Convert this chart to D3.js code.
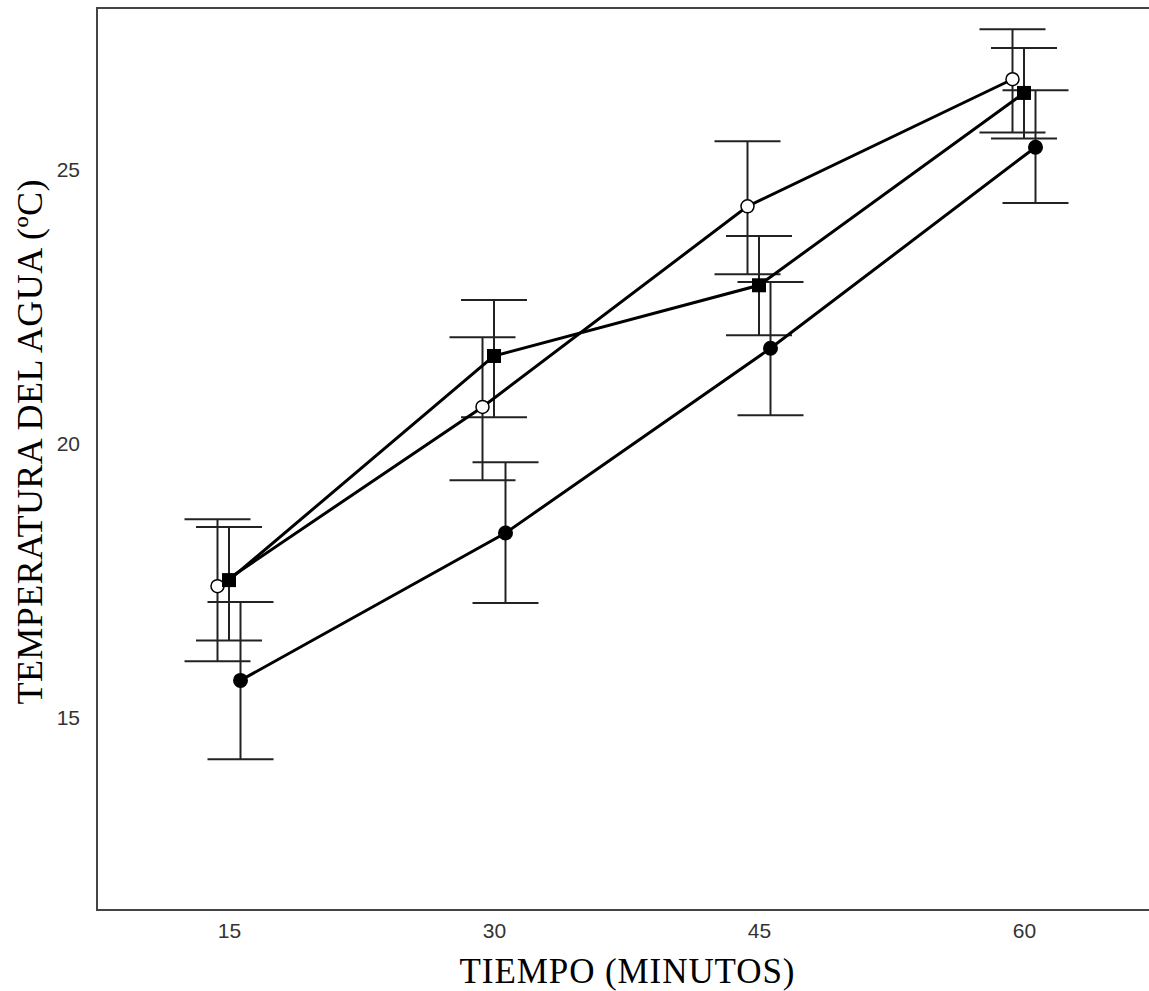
<!DOCTYPE html>
<html lang="es">
<head>
    <meta charset="UTF-8">
    <title>Temperatura del agua</title>
    <script src="https://cdn.jsdelivr.net/npm/d3@7/dist/d3.min.js"></script>
    <style>
        body { margin: 0; background: #fff; }
        svg { display: block; }
    </style>
</head>
<body>
<svg width="1149" height="991" id="chart"></svg>
<script>
    // datos
    const tiempos = ["15", "30", "45", "60"];
    const yTicks = [15, 20, 25];
    const series = ["abierto", "cuadrado", "relleno"];

    const mediaAbierto = [17.41, 20.68, 24.34, 26.66];
    const supAbierto = [18.63, 21.95, 25.53, 27.57];
    const infAbierto = [16.04, 19.34, 23.10, 25.69];

    const mediaCuadrado = [17.52, 21.61, 22.90, 26.41];
    const supCuadrado = [18.49, 22.63, 23.80, 27.23];
    const infCuadrado = [16.42, 20.49, 21.99, 25.58];

    const mediaRelleno = [15.69, 18.38, 21.75, 25.42];
    const supRelleno = [17.12, 19.67, 22.96, 26.46];
    const infRelleno = [14.25, 17.10, 20.53, 24.40];

    const datos = [
        { nombre: "abierto", media: mediaAbierto, sup: supAbierto, inf: infAbierto },
        { nombre: "cuadrado", media: mediaCuadrado, sup: supCuadrado, inf: infCuadrado },
        { nombre: "relleno", media: mediaRelleno, sup: supRelleno, inf: infRelleno }
    ];

    const svg = d3.select("#chart");
    const mLeft = 97, mTop = 8, mBottom = 910, mRight = 1157;

    const x = d3.scaleBand().domain(tiempos).range([mLeft, mRight]).padding(0);
    const dodge = d3.scalePoint().domain(series).range([-12, 11]);
    const y = d3.scaleLinear().domain([11.5, 27.96]).range([mBottom, mTop]);

    const cx = (s, i) => x(tiempos[i]) + x.bandwidth() / 2 + dodge(s);

    // marco
    svg.append("path")
        .attr("d", `M${mRight},${mTop}H${mLeft}V${mBottom}H${mRight}`)
        .attr("fill", "none")
        .attr("stroke", "#444")
        .attr("stroke-width", 2);

    // ejes (solo etiquetas)
    const yAxis = svg.append("g")
        .attr("transform", `translate(${mLeft - 17},0)`)
        .call(d3.axisLeft(y).tickValues(yTicks).tickSize(0).tickPadding(0));
    yAxis.select(".domain").remove();
    yAxis.selectAll("text")
        .attr("font-family", "Liberation Sans, Arial, sans-serif")
        .attr("font-size", 21)
        .attr("fill", "#333");

    const xAxis = svg.append("g")
        .attr("transform", `translate(0,${mBottom + 13})`)
        .call(d3.axisBottom(x).tickSize(0).tickPadding(0));
    xAxis.select(".domain").remove();
    xAxis.selectAll("text")
        .attr("font-family", "Liberation Sans, Arial, sans-serif")
        .attr("font-size", 21)
        .attr("fill", "#333");

    // barras de error
    const eb = svg.append("g")
        .attr("stroke", "#222")
        .attr("stroke-width", 2)
        .attr("fill", "none");
    datos.forEach(d => {
        tiempos.forEach((t, i) => {
            const px = cx(d.nombre, i);
            eb.append("line")
                .attr("x1", px).attr("x2", px)
                .attr("y1", y(d.sup[i])).attr("y2", y(d.inf[i]));
            [d.sup[i], d.inf[i]].forEach(v => {
                eb.append("line")
                    .attr("x1", px - 33).attr("x2", px + 33)
                    .attr("y1", y(v)).attr("y2", y(v));
            });
        });
    });

    // lineas
    const linea = d3.line();
    datos.forEach(d => {
        svg.append("path")
            .attr("d", linea(d.media.map((v, i) => [cx(d.nombre, i), y(v)])))
            .attr("fill", "none")
            .attr("stroke", "#000")
            .attr("stroke-width", 3);
    });

    // marcadores
    datos.forEach(d => {
        d.media.forEach((v, i) => {
            const px = cx(d.nombre, i), py = y(v);
            if (d.nombre === "cuadrado") {
                svg.append("rect")
                    .attr("x", px - 7).attr("y", py - 7)
                    .attr("width", 14).attr("height", 14)
                    .attr("fill", "#000");
            } else if (d.nombre === "abierto") {
                svg.append("circle")
                    .attr("cx", px).attr("cy", py).attr("r", 6.5)
                    .attr("fill", "#fff")
                    .attr("stroke", "#000")
                    .attr("stroke-width", 1.5);
            } else {
                svg.append("circle")
                    .attr("cx", px).attr("cy", py).attr("r", 7.5)
                    .attr("fill", "#000");
            }
        });
    });

    // titulos
    svg.append("text")
        .attr("x", 627)
        .attr("y", 983)
        .attr("text-anchor", "middle")
        .attr("font-family", "Liberation Serif, Times New Roman, serif")
        .attr("font-size", 35)
        .attr("textLength", 335)
        .attr("fill", "#000")
        .text("TIEMPO (MINUTOS)");

    svg.append("text")
        .attr("transform", "translate(42,442) rotate(-90)")
        .attr("text-anchor", "middle")
        .attr("font-family", "Liberation Serif, Times New Roman, serif")
        .attr("font-size", 36)
        .attr("textLength", 525)
        .attr("fill", "#000")
        .text("TEMPERATURA DEL AGUA (ºC)");
</script>
</body>
</html>
